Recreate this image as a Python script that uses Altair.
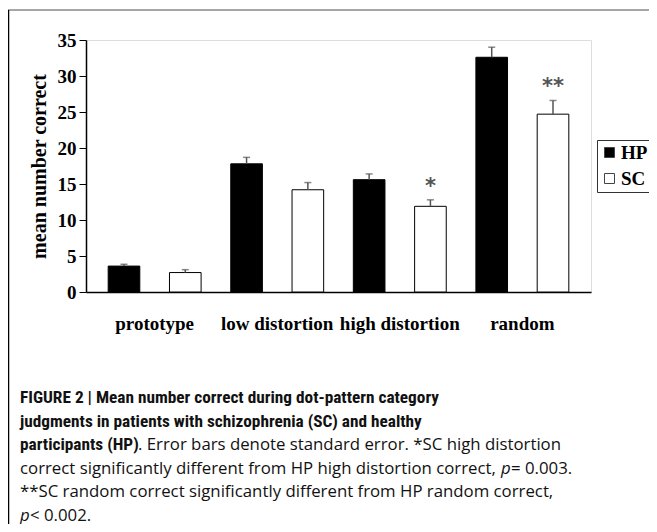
import altair as alt
import pandas as pd

categories = ["prototype", "low distortion", "high distortion", "random"]
groups = ["HP", "SC"]
hp_mean = [3.6, 17.8, 15.6, 32.6]
hp_se = [0.25, 0.9, 0.8, 1.4]
sc_mean = [2.7, 14.2, 11.9, 24.7]
sc_se = [0.4, 1.0, 0.9, 1.9]
hp_marks = ["", "", "", ""]
sc_marks = ["", "", "*", "**"]
y_ticks = [0, 5, 10, 15, 20, 25, 30, 35]

caption_lines = [
    "FIGURE 2 | Mean number correct during dot-pattern category",
    "judgments in patients with schizophrenia (SC) and healthy",
    "participants (HP)",
    ". Error bars denote standard error. *SC high distortion",
    "correct significantly different from HP high distortion correct,",
    "p",
    "\u00a0=\u00a00.003.",
    "**SC random correct significantly different from HP random correct,",
    "p",
    "\u00a0<\u00a00.002.",
]

rows = []
for g, means, ses, marks in [("HP", hp_mean, hp_se, hp_marks), ("SC", sc_mean, sc_se, sc_marks)]:
    for c, m, s, k in zip(categories, means, ses, marks):
        rows.append({"category": c, "group": g, "mean": m, "upper": m + s, "mark": k})
df = pd.DataFrame(rows)

SERIF = "Liberation Serif, Times New Roman, serif"
CAPB = "Liberation Sans Narrow, Roboto Condensed, DejaVu Sans Condensed, Arial Narrow, sans-serif"
CAPR = "Open Sans, Roboto, Liberation Sans, sans-serif"

x_enc = alt.X(
    "category:N",
    sort=categories,
    scale=alt.Scale(paddingInner=0, paddingOuter=0.06),
    axis=alt.Axis(
        title=None, labelFont=SERIF, labelFontSize=19, labelFontWeight="bold",
        labelColor="black", ticks=False, domainColor="black", domainWidth=1.5,
        labelPadding=22, labelAngle=0,
    ),
)
xo_enc = alt.XOffset("group:N", sort=groups, scale=alt.Scale(paddingInner=0.484, paddingOuter=0.242))
y_scale = alt.Scale(domain=[0, 35], nice=False)
y_axis = alt.Axis(
    title="mean number correct", titleFont=SERIF, titleFontSize=20,
    titleFontWeight="bold", titleColor="black", values=y_ticks,
    labelFont=SERIF, labelFontSize=19, labelFontWeight="bold", labelColor="black",
    labelOverlap=False, labelPadding=3, tickColor="black", tickSize=7, domainColor="black",
    domainWidth=1.5, grid=False, titlePadding=8,
)

base = alt.Chart(df)

bars = base.mark_bar(stroke="black", strokeWidth=1).encode(
    x=x_enc,
    xOffset=xo_enc,
    y=alt.Y("mean:Q", scale=y_scale, axis=y_axis),
    fill=alt.Fill(
        "group:N",
        scale=alt.Scale(domain=groups, range=["black", "white"]),
        legend=alt.Legend(
            title=None, orient="none", legendX=511, legendY=100, direction="vertical",
            symbolType="square", symbolSize=100, symbolStrokeColor="#444", symbolStrokeWidth=1,
            labelFont=SERIF, labelFontSize=19, labelFontWeight="bold", labelColor="black",
            strokeColor="#333", padding=3, rowPadding=6, labelOffset=2, fillColor="white",
        ),
    ),
)

stems = base.mark_rule(color="#555", strokeWidth=1.5).encode(
    x=x_enc, xOffset=xo_enc, y=alt.Y("mean:Q", scale=y_scale, axis=y_axis), y2="upper:Q"
)
caps = base.mark_tick(color="#555", thickness=1.5, size=7).encode(
    x=x_enc, xOffset=xo_enc, y=alt.Y("upper:Q", scale=y_scale, axis=y_axis)
)
stars = base.mark_text(font="DejaVu Sans", fontSize=21, fontWeight="bold", color="#555",
                       baseline="bottom", dy=-3).encode(
    x=x_enc, xOffset=xo_enc, y=alt.Y("upper:Q", scale=y_scale, axis=y_axis), text="mark:N"
)

one = pd.DataFrame({"a": [0]})
deco = []
# figure frame (top grey line, left black line)
deco.append(alt.Chart(one).mark_rule(color="#888", strokeWidth=1.5).encode(
    x=alt.value(-78), x2=alt.value(600), y=alt.value(-30)))
deco.append(alt.Chart(one).mark_rule(color="black", strokeWidth=1.5).encode(
    x=alt.value(-77.5), y=alt.value(-30), y2=alt.value(500)))

def cap_text(txt, xpos, ypos, bold=False, italic=False):
    return alt.Chart(one).mark_text(
        font=CAPB if bold else CAPR, fontSize=17.3 if bold else 16.8,
        align="left", baseline="middle", color="#111",
        fontWeight="bold" if bold else "normal", fontStyle="italic" if italic else "normal",
    ).encode(x=alt.value(xpos), y=alt.value(ypos), text=alt.value(txt))

X0 = -66
L = [358, 381.5, 405, 428.5, 452, 475.5]
deco.append(cap_text(caption_lines[0], X0, L[0], bold=True))
deco.append(cap_text(caption_lines[1], X0, L[1], bold=True))
deco.append(cap_text(caption_lines[2], X0, L[2], bold=True))
deco.append(cap_text(caption_lines[3], X0 + 118, L[2]))
deco.append(cap_text(caption_lines[4], X0, L[3]))
deco.append(cap_text(caption_lines[5], X0 + 481, L[3], italic=True))
deco.append(cap_text(caption_lines[6], X0 + 491, L[3]))
deco.append(cap_text(caption_lines[7], X0, L[4]))
deco.append(cap_text(caption_lines[8], X0, L[5], italic=True))
deco.append(cap_text(caption_lines[9], X0 + 10, L[5]))

chart = alt.layer(bars, stems, caps, stars, *deco).properties(
    width=505, height=252,
    autosize=alt.AutoSizeParams(type="none"),
    padding={"left": 78, "top": 32, "right": 58, "bottom": 232},
).configure_view(stroke="#888", strokeWidth=1).configure(background="white")

chart.save("out.html", embed_options={"renderer": "svg", "actions": False})
